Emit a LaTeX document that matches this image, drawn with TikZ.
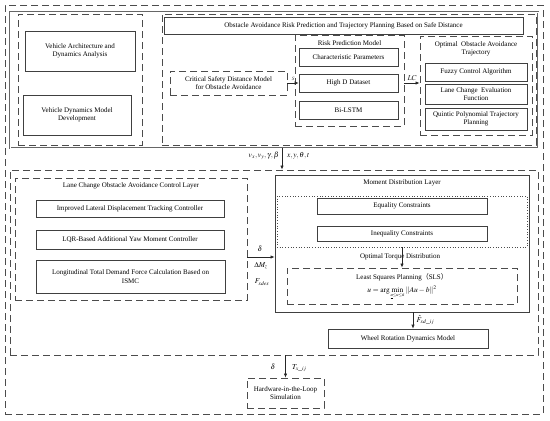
\documentclass[tikz,border=0pt]{standalone}
\usepackage{mathptmx}
\usepackage{fontspec}
\setmainfont{Liberation Serif}
\newfontfamily\cjk{Noto Sans CJK SC}
\usetikzlibrary{arrows.meta,calc}
\begin{document}
\begin{tikzpicture}[x=1pt,y=-1pt,
  txt/.style={font=\fontsize{7}{8.6}\selectfont, align=center, inner sep=0pt},
  box/.style={txt, draw=black!75, line width=0.6pt},
  cont/.style={draw=black!70, line width=0.7pt, dash pattern=on 7pt off 4pt, inner sep=0pt},
  dotbox/.style={draw=black!70, line width=0.7pt, dotted, inner sep=0pt},
  arr/.style={-{Latex[length=4pt,width=3.2pt]}, line width=0.6pt, black!85},
  lab/.style={font=\fontsize{7.5}{8}\selectfont, inner sep=0pt}
]
\useasboundingbox (0,0) rectangle (550,421);
\fill[white] (0,0) rectangle (550,421);

% outer containers
\node[cont, minimum width=538pt, minimum height=409pt] (outer) at (274,209.5) {};
\node[draw=black!60, double=white, double distance=0.9pt, line width=0.5pt, inner sep=0pt,
      minimum width=528pt, minimum height=136pt] (top) at (274,80) {};

% top left
\node[cont, minimum width=124pt, minimum height=131pt] (tleft) at (80,79.5) {};
\node[box, minimum width=110pt, minimum height=40pt] (va) at (80,51) {Vehicle Architecture and\\Dynamics Analysis};
\node[box, minimum width=108pt, minimum height=40pt] (vd) at (77,115) {Vehicle Dynamics Model\\Development};

% top right
\node[cont, minimum width=374pt, minimum height=131pt] (tright) at (349,79.5) {};
\node[box, minimum width=359pt, minimum height=17pt] (title) at (343.5,25.5) {Obstacle Avoidance Risk Prediction and Trajectory Planning Based on Safe Distance};
\node[box, cont, minimum width=117pt, minimum height=24pt] (crit) at (228.5,83) {Critical Safety Distance Model\\for Obstacle Avoidance};

\node[cont, minimum width=109pt, minimum height=91pt] (risk) at (349.5,80.5) {};
\node[txt] at (349.5,43) {Risk Prediction Model};
\node[box, minimum width=99pt, minimum height=18pt] (cp) at (348.5,57) {Characteristic Parameters};
\node[box, minimum width=99pt, minimum height=18pt] (hd) at (348.5,83) {High D Dataset};
\node[box, minimum width=99pt, minimum height=18pt] (bl) at (348.5,110) {Bi-LSTM};

\node[cont, minimum width=112pt, minimum height=99pt] (opt) at (476,85.5) {};
\node[txt] at (476,49) {Optimal\ \ Obstacle Avoidance\\Trajectory};
\node[box, minimum width=102pt, minimum height=18pt] (fz) at (476,72) {Fuzzy Control Algorithm};
\node[box, minimum width=102pt, minimum height=20pt] (lce) at (476,94) {Lane Change\ \ Evaluation\\Function};
\node[box, minimum width=102pt, minimum height=22pt] (qp) at (476,119) {Quintic Polynomial Trajectory\\Planning};

\draw[arr] (crit.east) -- (hd.west) node[midway, above=2pt, font=\fontsize{5}{5}\selectfont, inner sep=0pt] {$S$};
\draw[arr] (risk.east |- hd) -- (opt.west |- hd) node[midway, above=2pt, lab] {$LC$};

% bottom main
\node[cont, minimum width=528pt, minimum height=185pt] (bm) at (274,262.5) {};
\coordinate (ax) at (282,0);
\draw[arr] (top.south -| ax) -- (bm.north -| ax);
\node[lab, anchor=east] at (279,156) {$v_x,v_y,\gamma,\beta$};
\node[lab, anchor=west] at (287,156) {$x,y,\theta,t$};

\node[cont, minimum width=232pt, minimum height=122pt] (lcl) at (131,239) {};
\node[txt] at (131,186) {Lane Change Obstacle Avoidance Control Layer};
\node[box, minimum width=188pt, minimum height=17pt] (ild) at (130,208.5) {Improved Lateral Displacement Tracking Controller};
\node[box, minimum width=188pt, minimum height=19pt] (lqr) at (130,239.5) {LQR-Based Additional Yaw Moment Controller};
\node[box, minimum width=189pt, minimum height=33pt] (ltd) at (130.5,276.5) {Longitudinal Total Demand Force Calculation Based on\\ISMC};

\node[draw=black!75, line width=0.7pt, inner sep=0pt, minimum width=254pt, minimum height=137pt] (mdl) at (402,243.5) {};
\node[txt] at (402,183) {Moment Distribution Layer};
\node[dotbox, minimum width=250pt, minimum height=51pt] (dot) at (402,221.5) {};
\node[box, minimum width=170pt, minimum height=16pt] (eq) at (402,206) {Equality Constraints};
\node[box, minimum width=170pt, minimum height=15pt] (ineq) at (402,233.5) {Inequality Constraints};
\node[txt] at (400,257) {Optimal Torque Distribution};
\node[cont, minimum width=230pt, minimum height=36pt] (lsp) at (402,286) {};
\node[txt] at (402,277) {Least Squares Planning{\cjk （}SLS{\cjk ）}};
\node[lab] at (402,292) {$u=\arg\mathop{\min}\limits_{\scriptscriptstyle\underline{u}\le u\le\bar{u}}\,\left\|Au-b\right\|^2$};
\draw[arr] (dot.south) -- (lsp.north);

\coordinate (ay) at (0,257);
\draw[arr] (lcl.east |- ay) -- (mdl.west |- ay);
\node[lab] at (260,249) {$\delta$};
\node[lab] at (261,266) {$\Delta M_z$};
\node[lab] at (262,282) {$F_{xdes}$};

\node[box, minimum width=160pt, minimum height=19pt] (wr) at (408,338.5) {Wheel Rotation Dynamics Model};
\coordinate (az) at (413,0);
\draw[arr] (mdl.south -| az) -- (wr.north -| az);
\node[lab, anchor=west] at (416.5,320) {$\hat{F}_{xd\_ij}$};

\node[box, cont, minimum width=77pt, minimum height=30pt] (hil) at (285.5,393) {Hardware-in-the-Loop\\Simulation};
\draw[arr] (bm.south -| hil.north) -- (hil.north);
\node[lab] at (273,367) {$\delta$};
\node[lab, anchor=west] at (292,368) {$T_{x\_ij}$};
\end{tikzpicture}
\end{document}
